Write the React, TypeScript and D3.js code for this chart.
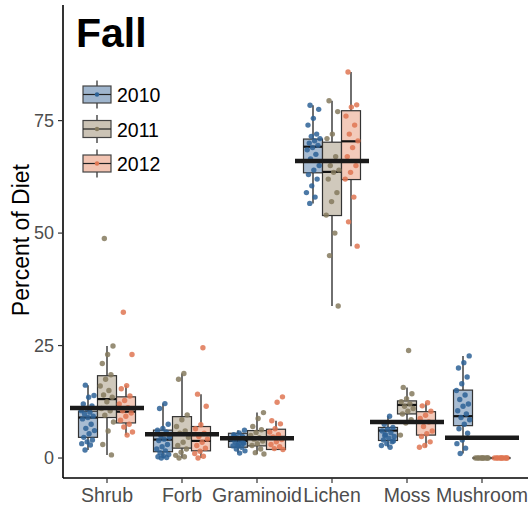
import React from "react";
import { scaleLinear, scalePoint, scaleBand } from "d3";

// categories and groups
const categories = ["Shrub", "Forb", "Graminoid", "Lichen", "Moss", "Mushroom"];
const years = ["2010", "2011", "2012"];
const yTicks = [0, 25, 50, 75];

// overall mean per category (thick black bar)
const categoryMeans = [11.1, 5.3, 4.4, 66.0, 8.0, 4.5];

// box stats per category: [lower whisker, q1, median, q3, upper whisker]
const boxes2010 = [
  [1.8, 4.6, 9.0, 10.4, 16.2],
  [0, 1.4, 4.1, 6.2, 12.1],
  [1.1, 2.4, 3.8, 5.5, 6.2],
  [56.6, 63.4, 69.2, 70.9, 78.4],
  [2.4, 3.9, 6.1, 6.8, 9.3],
  [1.0, 7.2, 9.3, 15.1, 22.7],
];
const boxes2011 = [
  [0.7, 9.0, 13.1, 18.3, 24.9],
  [0, 2.2, 5.3, 9.2, 18.8],
  [0.9, 2.7, 4.3, 6.1, 10.1],
  [33.8, 53.9, 63.6, 70.2, 79.4],
  [7.8, 9.8, 11.8, 12.7, 15.7],
  [0, 0, 0, 0, 0],
];
const boxes2012 = [
  [5.1, 7.8, 10.3, 13.6, 16.1],
  [0, 1.6, 3.8, 7.0, 14.2],
  [1.9, 1.9, 4.7, 6.4, 8.3],
  [47.1, 61.9, 70.4, 77.2, 85.8],
  [2.4, 5.1, 8.0, 10.3, 12.3],
  [0, 0, 0, 0, 0],
];

// individual observations per category
const points2010 = [
  [16.2, 13.9, 13.5, 12.0, 11.6, 11.0, 10.5, 10.2, 9.8, 9.3, 9.0, 8.7, 7.5, 6.6, 6.1, 5.4, 4.6, 4.0, 3.6, 3.2, 2.9, 1.8],
  [12.1, 11.0, 7.5, 6.6, 6.2, 5.8, 5.0, 4.6, 4.2, 3.9, 3.0, 2.5, 2.0, 1.6, 1.2, 0.8, 0.5, 0.3, 0.1, 0.0],
  [6.2, 5.6, 5.2, 4.8, 4.5, 4.2, 3.9, 3.6, 3.3, 3.0, 2.7, 2.4, 2.0, 1.6, 1.1, 4.9, 3.4, 2.8],
  [78.4, 77.5, 75.5, 74, 72, 71.5, 71, 70.5, 70, 69.5, 69, 68.5, 67.5, 66.5, 65, 64, 63, 62, 60.5, 59, 58, 56.6],
  [9.3, 7.5, 6.8, 6.4, 6.0, 5.6, 5.2, 4.8, 4.4, 4.0, 3.6, 3.2, 2.8, 2.4, 5.0, 3.8],
  [22.7, 21.2, 20.0, 18.0, 16.5, 15.0, 14.0, 13.0, 12.0, 11.5, 10.5, 9.8, 9.0, 8.5, 7.5, 6.5, 5.5, 4.0, 3.2, 2.2, 1.0],
];
const points2011 = [
  [48.8, 24.9, 23, 21, 18.5, 17.5, 16, 15, 14, 13.5, 12.5, 11, 10.5, 9.5, 8, 6, 3, 0.7],
  [18.8, 17.5, 9.6, 8.5, 7.0, 6.0, 5.5, 4.6, 3.5, 2.8, 2.0, 1.3, 0.6, 0.3, 0.0],
  [10.1, 8.8, 7.0, 6.3, 5.7, 5.0, 4.5, 4.2, 3.8, 3.2, 2.8, 2.0, 1.2, 0.9],
  [79.4, 77, 72, 71, 67, 65, 64, 63.5, 62, 59, 57, 54, 50, 45, 33.8],
  [23.9, 15.7, 14.3, 13.2, 12.5, 12.0, 11.5, 11.0, 10.4, 9.8, 8.5, 7.8, 5.1],
  [0, 0, 0, 0, 0, 0, 0, 0, 0, 0],
];
const points2012 = [
  [32.4, 23.0, 16.1, 15.4, 13.8, 12.8, 12.0, 11.2, 10.5, 10.0, 9.3, 8.4, 7.5, 6.9, 5.8, 5.1],
  [24.5, 14.2, 11.5, 7.4, 6.5, 5.5, 4.8, 4.2, 3.5, 2.8, 2.2, 1.5, 1.0, 0.4, 0.0],
  [13.6, 12.4, 8.3, 7.6, 6.5, 5.8, 5.2, 4.7, 4.1, 3.6, 3.0, 2.5, 2.1, 1.9],
  [85.8, 78.5, 78.0, 76, 74, 72, 70.5, 69, 67, 65, 63.5, 62, 58, 52.5, 47.1],
  [12.3, 11.6, 10.4, 9.5, 8.8, 8.0, 7.0, 6.0, 5.4, 4.8, 3.6, 2.8, 2.4],
  [0, 0, 0, 0, 0, 0, 0, 0, 0, 0],
];

const boxesByYear = [boxes2010, boxes2011, boxes2012];
const pointsByYear = [points2010, points2011, points2012];
const pointColors = ["#2d6296", "#857a5e", "#df7652"];
const fillColors = ["#9fb5cd", "#cbc3b5", "#f2c4b2"];

const FONT = "'Liberation Sans', Arial, sans-serif";

export default function App() {
  const width = 528,
    height = 506;
  const left = 63,
    bottom = 478,
    top = 5;

  const y = scaleLinear().domain([-4.44, 100.7]).range([bottom, top]);
  const x = scalePoint().domain(categories).range([107, 482]);
  const dodge = scaleBand().domain(years).range([-28.5, 28.5]);
  const bw = dodge.bandwidth();

  // fixed jitter pattern (golden ratio sequence)
  const jitter = (i: number) => (((i * 0.618034 + 0.31) % 1) - 0.5) * 14;

  return (
    <svg width={width} height={height} style={{ position: "absolute", left: 0, top: 0 }}>
      <rect width={width} height={height} fill="#fff" />

      {/* boxes */}
      {years.map((yr, k) =>
        categories.map((cat, c) => {
          const [lo, q1, med, q3, hi] = boxesByYear[k][c];
          const cx = (x(cat) as number) + (dodge(yr) as number) + bw / 2;
          return (
            <g key={yr + cat}>
              <line x1={cx} x2={cx} y1={y(hi)} y2={y(q3)} stroke="#222" strokeWidth={1.3} />
              <line x1={cx} x2={cx} y1={y(q1)} y2={y(lo)} stroke="#222" strokeWidth={1.3} />
              <rect
                x={cx - bw / 2}
                y={y(q3)}
                width={bw}
                height={Math.max(0, y(q1) - y(q3))}
                fill={fillColors[k]}
                fillOpacity={0.9}
                stroke="#333"
                strokeWidth={1.2}
              />
              <line x1={cx - bw / 2} x2={cx + bw / 2} y1={y(med)} y2={y(med)} stroke="#111" strokeWidth={2.2} />
            </g>
          );
        })
      )}

      {/* jittered points */}
      {years.map((yr, k) =>
        categories.map((cat, c) => {
          const cx = (x(cat) as number) + (dodge(yr) as number) + bw / 2;
          return pointsByYear[k][c].map((v, i) => (
            <circle
              key={yr + cat + i}
              cx={cx + jitter(i + c * 7)}
              cy={y(v)}
              r={2.7}
              fill={pointColors[k]}
              fillOpacity={0.85}
            />
          ));
        })
      )}

      {/* category means */}
      {categories.map((cat, c) => (
        <line
          key={"m" + cat}
          x1={(x(cat) as number) - 37}
          x2={(x(cat) as number) + 37}
          y1={y(categoryMeans[c])}
          y2={y(categoryMeans[c])}
          stroke="#1a1a1a"
          strokeWidth={4.5}
        />
      ))}

      {/* axes */}
      <line x1={left} x2={left} y1={top} y2={bottom} stroke="#000" strokeWidth={1.6} />
      <line x1={left} x2={width} y1={bottom} y2={bottom} stroke="#000" strokeWidth={1.6} />
      {yTicks.map((t) => (
        <g key={"yt" + t}>
          <line x1={left - 5} x2={left} y1={y(t)} y2={y(t)} stroke="#333" strokeWidth={1.2} />
          <text
            x={left - 9}
            y={y(t)}
            dy="0.35em"
            textAnchor="end"
            fontFamily={FONT}
            fontSize={18}
            fill="#4d4d4d"
          >
            {t}
          </text>
        </g>
      ))}
      {categories.map((cat) => (
        <g key={"xt" + cat}>
          <line x1={x(cat)} x2={x(cat)} y1={bottom} y2={bottom + 5} stroke="#333" strokeWidth={1.2} />
          <text
            x={x(cat)}
            y={502}
            textAnchor="middle"
            fontFamily={FONT}
            fontSize={19.5}
            fill="#4d4d4d"
          >
            {cat}
          </text>
        </g>
      ))}
      <text
        transform={`translate(29, ${y(50) + 7}) rotate(-90)`}
        textAnchor="middle"
        fontFamily={FONT}
        fontSize={23}
        fill="#000"
      >
        Percent of Diet
      </text>

      {/* title */}
      <text x={76} y={47} fontFamily={FONT} fontSize={41} fontWeight="bold" fill="#000">
        Fall
      </text>

      {/* legend */}
      {years.map((yr, k) => {
        const cy = 94.5 + k * 34.5;
        return (
          <g key={"lg" + yr}>
            <line x1={97} x2={97} y1={cy - 14} y2={cy + 14} stroke="#222" strokeWidth={1.2} />
            <rect x={83} y={cy - 8.5} width={28} height={17} fill={fillColors[k]} stroke="#444" strokeWidth={1.2} />
            <line x1={83} x2={111} y1={cy} y2={cy} stroke="#222" strokeWidth={1.2} />
            <circle cx={97} cy={cy} r={2.2} fill={pointColors[k]} />
            <text x={117} y={cy + 7.5} fontFamily={FONT} fontSize={19.5} fill="#000">
              {yr}
            </text>
          </g>
        );
      })}
    </svg>
  );
}
